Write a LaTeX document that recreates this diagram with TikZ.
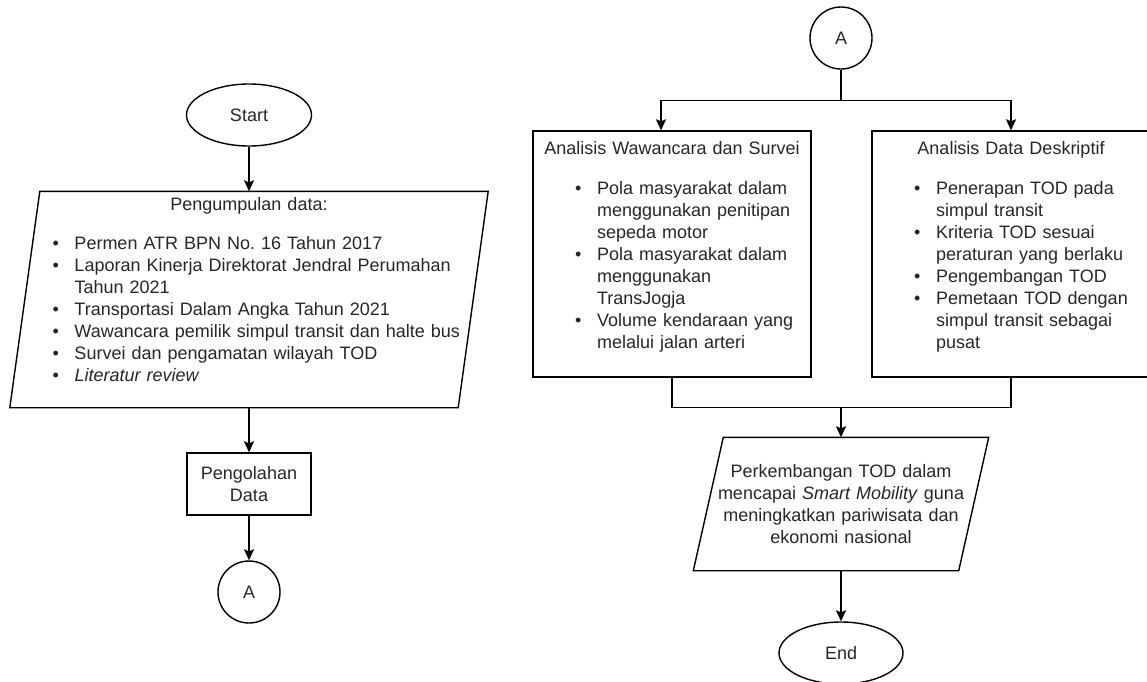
\documentclass[tikz,border=0pt]{standalone}
\usepackage{fontspec}
\setmainfont{Liberation Sans}
\usetikzlibrary{shapes.geometric,arrows.meta}
\frenchspacing
\newcommand{\bul}[1]{\par\noindent\hspace*{42pt}\makebox[22pt][l]{\textbullet}#1\strut}
\newcommand{\lanjut}[1]{\par\noindent\hspace*{64pt}#1\strut}
\begin{document}
\begin{tikzpicture}[x=1pt, y=-1pt, line width=1.4pt,
    every node/.style={font=\fontsize{18}{22}\selectfont, text=black!85, inner sep=0pt},
    arr/.style={-{Stealth[length=11pt,width=10pt,inset=2pt]}},
    ujung/.style={draw, ellipse, minimum width=125pt, minimum height=62pt},
    konektor/.style={draw, circle, minimum size=62pt},
    kotak/.style={draw, rectangle, minimum width=278pt, minimum height=246pt,
    text width=278pt, align=left}]
    \useasboundingbox (0,0) rectangle (1147,681);
    \node[ujung] (start) at (249,115) {Start};
    \node[text width=477pt, minimum height=215pt, align=left] (data) at (249,299.5) {%
        {\centering Pengumpulan data:\strut\par}\vspace{17pt}
        \bul{Permen ATR BPN No. 16 Tahun 2017}
        \bul{Laporan Kinerja Direktorat Jendral Perumahan}
        \lanjut{Tahun 2021}
        \bul{Transportasi Dalam Angka Tahun 2021}
        \bul{Wawancara pemilik simpul transit dan halte bus}
        \bul{Survei dan pengamatan wilayah TOD}
        \bul{\textit{Literatur review}}
        \par\vspace*{16pt}};
    \draw ([xshift=30pt]data.north west) -- (data.north east)
        -- ([xshift=-30pt]data.south east) -- (data.south west) -- cycle;
    \node[draw, minimum width=124pt, minimum height=62pt, align=center] (olah) at (249,484)
        {Pengolahan\\Data};
    \node[konektor] (ka) at (249,592) {A};
    \node[konektor] (kb) at (841,38) {A};
    \node[kotak] (wawan) at (672,254) {%
        {\centering Analisis Wawancara dan Survei\strut\par}\vspace{18pt}
        \bul{Pola masyarakat dalam}
        \lanjut{menggunakan penitipan}
        \lanjut{sepeda motor}
        \bul{Pola masyarakat dalam}
        \lanjut{menggunakan}
        \lanjut{TransJogja}
        \bul{Volume kendaraan yang}
        \lanjut{melalui jalan arteri}
        \par\vspace*{14pt}};
    \node[kotak] (desk) at (1011,254) {%
        {\centering Analisis Data Deskriptif\strut\par}\vspace{18pt}
        \bul{Penerapan TOD pada}
        \lanjut{simpul transit}
        \bul{Kriteria TOD sesuai}
        \lanjut{peraturan yang berlaku}
        \bul{Pengembangan TOD}
        \bul{Pemetaan TOD dengan}
        \lanjut{simpul transit sebagai}
        \lanjut{pusat}
        \par\vspace*{14pt}};
    \node[text width=294pt, minimum height=132pt, align=center] (hasil) at (841,504) {%
        Perkembangan TOD dalam\\
        mencapai \textit{Smart Mobility} guna\\
        meningkatkan pariwisata dan\\
        ekonomi nasional};
    \draw ([xshift=30pt]hasil.north west) -- (hasil.north east)
        -- ([xshift=-30pt]hasil.south east) -- (hasil.south west) -- cycle;
    \node[ujung, minimum width=124pt] (end) at (841,653) {End};
    \draw[arr] (start) -- (data);
    \draw[arr] (data) -- (olah);
    \draw[arr] (olah) -- (ka);
    \draw[arr] (kb.south) -- ++(0,31) -| ([xshift=-11pt]wawan.north);
    \draw[arr] (kb.south) -- ++(0,31) -| (desk.north);
    \draw (wawan.south) -- ++(0,30) coordinate (gabung) -| (desk.south);
    \draw[arr] (gabung -| hasil.north) -- (hasil.north);
    \draw[arr] (hasil) -- (end);
\end{tikzpicture}
\end{document}
